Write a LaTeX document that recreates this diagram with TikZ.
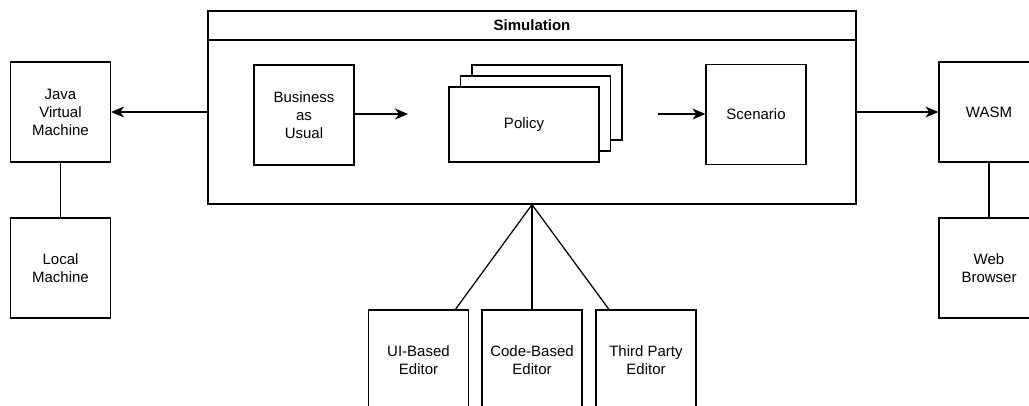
\documentclass[tikz,border=0pt]{standalone}
\usepackage{fontspec}
\setmainfont{Liberation Sans}
\usepackage{tikz}
\usetikzlibrary{arrows.meta, calc}

\begin{document}
\begin{tikzpicture}[x=1pt, y=-1pt,
    box/.style={draw, line width=1.25pt, fill=white, minimum width=100pt,
      minimum height=100pt, inner sep=0pt, align=center,
      font=\fontsize{15}{18}\selectfont},
    card/.style={box, minimum width=150pt, minimum height=75pt},
    link/.style={line width=1.25pt},
    arr/.style={link, -{Stealth[length=13pt, width=11pt, inset=4pt]}}]
  \useasboundingbox (0,0) rectangle (1029,405);
  \clip (0,0) rectangle (1029,405);
  %% simulation container with its title bar
  \node[box, minimum width=648pt, minimum height=193pt] (sim) at (532,107.5) {};
  \draw[link] (208,40) -- (856,40);
  \node[font=\fontsize{15}{18}\selectfont\bfseries] (simtitle) at (532,25.5) {Simulation};
  %% inside the simulation
  \node[box] (bau) at (304,115) {Business\\as\\Usual};
  \node[card] (pback) at (547,102.5) {};
  \node[card] (pmid) at (535.5,113.5) {};
  \node[card] (policy) at (524,124.5) {Policy};
  \node[box] (scen) at (756,114.5) {Scenario};
  \coordinate (pin) at (408,114);
  \coordinate (pout) at (658,114);
  \draw[arr] (bau.east |- pin) -- (pin);
  \draw[arr] (pout) -- (scen.west |- pout);
  %% runtimes, left and right
  \node[box] (jvm) at (60.5,112) {Java\\Virtual\\Machine};
  \node[box] (local) at (60.5,268) {Local\\Machine};
  \node[box] (wasm) at (989,112) {WASM};
  \node[box] (web) at (989,268) {Web\\Browser};
  \draw[arr] (jvm.east -| sim.west) -- (jvm.east);
  \draw[arr] (wasm.west -| sim.east) -- (wasm.west);
  \draw[link] (jvm) -- (local);
  \draw[link] (wasm) -- (web);
  %% editors below
  \node[box] (ui) at (418.5,360) {UI-Based\\Editor};
  \node[box] (code) at (532,360) {Code-Based\\Editor};
  \node[box] (third) at (646,360) {Third Party\\Editor};
  \draw[link] (sim.south) -- (ui);
  \draw[link] (sim.south) -- (code);
  \draw[link] (sim.south) -- (third);
\end{tikzpicture}
\end{document}
